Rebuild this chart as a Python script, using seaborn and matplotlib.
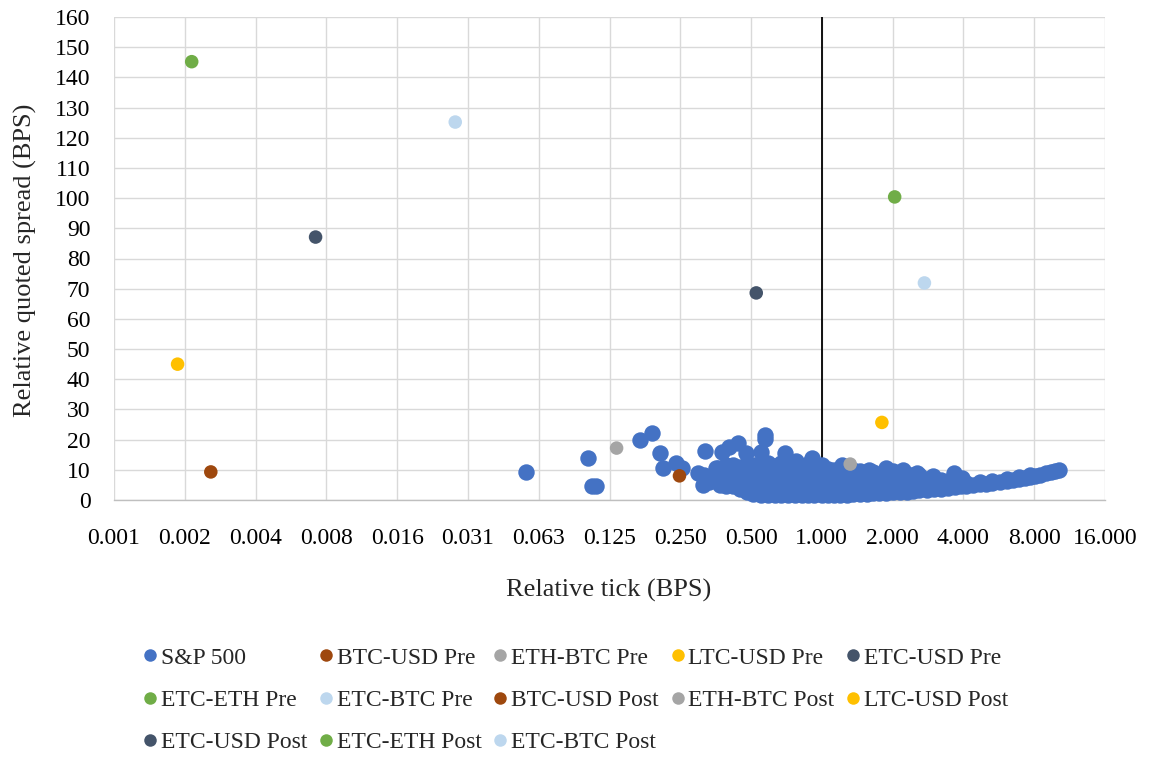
import matplotlib
matplotlib.use("Agg")
import matplotlib.pyplot as plt
from matplotlib.lines import Line2D
from matplotlib.ticker import NullLocator, FixedLocator, FixedFormatter
import pandas as pd
import seaborn as sns

# ---------------- data ----------------
x_ticks = [2.0 ** k for k in range(-10, 5)]
x_tick_labels = ["0.001", "0.002", "0.004", "0.008", "0.016", "0.031", "0.063",
                 "0.125", "0.250", "0.500", "1.000", "2.000", "4.000", "8.000", "16.000"]
y_ticks = list(range(0, 161, 10))

# S&P 500 stocks (relative tick, relative quoted spread)
sp500_tick = [
    0.055, 0.101, 0.105, 0.109, 0.168, 0.189, 0.204, 0.212, 0.240, 0.254,
    0.298, 0.313, 0.319, 0.316, 0.330, 0.360, 0.376, 0.403, 0.442, 0.475,
    0.553, 0.571, 0.571, 0.700, 0.780, 0.907, 1.220, 1.580, 1.870, 2.220,
    2.530, 2.980, 3.660, 3.930, 0.403, 0.417, 0.355, 0.390,
    0.37, 0.37, 0.37,
    0.39, 0.39, 0.39,
    0.42, 0.42, 0.42, 0.42,
    0.45, 0.45, 0.45, 0.45,
    0.48, 0.48, 0.48, 0.48, 0.48,
    0.51, 0.51, 0.51, 0.51, 0.51,
    0.55, 0.55, 0.55, 0.55, 0.55,
    0.59, 0.59, 0.59, 0.59, 0.59, 0.59,
    0.63, 0.63, 0.63, 0.63, 0.63,
    0.67, 0.67, 0.67, 0.67, 0.67, 0.67,
    0.72, 0.72, 0.72, 0.72, 0.72,
    0.77, 0.77, 0.77, 0.77, 0.77, 0.77,
    0.82, 0.82, 0.82, 0.82, 0.82,
    0.87, 0.87, 0.87, 0.87, 0.87, 0.87,
    0.93, 0.93, 0.93, 0.93, 0.93,
    1.00, 1.00, 1.00, 1.00, 1.00, 1.00,
    1.06, 1.06, 1.06, 1.06, 1.06,
    1.13, 1.13, 1.13, 1.13, 1.13,
    1.20, 1.20, 1.20, 1.20, 1.20,
    1.28, 1.28, 1.28, 1.28, 1.28,
    1.36, 1.36, 1.36, 1.36, 1.36,
    1.45, 1.45, 1.45, 1.45, 1.45,
    1.55, 1.55, 1.55, 1.55,
    1.65, 1.65, 1.65, 1.65, 1.65,
    1.75, 1.75, 1.75, 1.75,
    1.87, 1.87, 1.87, 1.87,
    2.00, 2.00, 2.00, 2.00, 2.00,
    2.15, 2.15, 2.15, 2.15,
    2.30, 2.30, 2.30, 2.30,
    2.45, 2.45, 2.45, 2.45,
    2.60, 2.60, 2.60, 2.60,
    2.80, 2.80, 2.80,
    3.00, 3.00, 3.00,
    3.20, 3.20, 3.20,
    3.45, 3.45, 3.45,
    3.70, 3.70, 3.70,
    3.9, 3.9, 4.1, 4.1, 4.4, 4.7, 4.7, 5.0, 5.3, 5.3,
    5.7, 6.1, 6.1, 6.5, 6.9, 6.9, 7.3, 7.7, 7.7, 8.1,
    8.5, 9.0, 9.4, 9.8, 10.2,
]
sp500_spread = [
    9.3, 13.9, 4.6, 4.6, 19.8, 22.1, 15.5, 10.5, 12.4, 10.5,
    8.8, 5.0, 16.2, 8.3, 6.0, 10.5, 15.8, 17.6, 19.0, 15.5,
    15.8, 21.5, 20.2, 15.5, 12.8, 14.0, 11.6, 9.9, 10.6, 9.9,
    9.0, 7.8, 8.8, 7.2, 8.8, 5.5, 10.5, 11.6,
    5.0, 7.5, 10.0,
    4.8, 7.2, 9.6,
    4.6, 7.0, 9.4, 11.6,
    3.6, 6.0, 8.6, 11.0,
    2.6, 5.0, 7.6, 10.0, 12.0,
    2.0, 4.4, 7.0, 9.5, 11.6,
    1.8, 4.2, 6.6, 9.0, 11.4,
    1.6, 4.0, 6.4, 8.8, 11.0, 12.4,
    1.8, 4.2, 6.6, 9.0, 11.4,
    1.6, 3.8, 6.2, 8.6, 11.0, 12.2,
    1.8, 4.0, 6.4, 8.8, 11.2,
    1.6, 3.8, 6.0, 8.4, 10.8, 12.4,
    1.8, 4.0, 6.4, 8.6, 11.0,
    1.6, 3.8, 6.0, 8.2, 10.6, 12.0,
    1.8, 4.0, 6.2, 8.6, 10.8,
    1.7, 3.8, 6.0, 8.2, 10.4, 11.6,
    1.8, 4.0, 6.2, 8.4, 10.2,
    1.7, 3.8, 6.0, 8.2, 10.0,
    1.8, 4.0, 6.2, 8.4, 10.4,
    1.8, 3.8, 6.0, 8.2, 10.0,
    1.9, 4.0, 6.2, 8.4, 9.8,
    2.0, 4.0, 6.0, 8.2, 9.6,
    2.1, 4.2, 6.4, 8.4,
    2.2, 4.2, 6.2, 8.2, 9.4,
    2.2, 4.4, 6.4, 8.4,
    2.4, 4.4, 6.4, 8.6,
    2.5, 4.5, 6.5, 8.5, 9.6,
    2.7, 4.6, 6.6, 8.6,
    2.8, 4.8, 6.8, 8.6,
    3.0, 5.0, 7.0, 8.4,
    3.2, 5.0, 6.8, 8.2,
    3.4, 5.2, 7.0,
    3.6, 5.3, 6.8,
    3.8, 5.4, 6.6,
    4.0, 5.5, 6.4,
    4.2, 5.6, 6.2,
    4.6, 5.6, 4.8, 5.6, 5.0, 5.2, 5.9, 5.4, 5.7, 6.2,
    6.0, 6.4, 6.9, 6.7, 7.0, 7.5, 7.3, 7.7, 8.2, 8.0,
    8.3, 8.8, 9.3, 9.7, 10.1,
]

# Crypto pairs, pre and post tick change
crypto_series = ["BTC-USD Pre", "ETH-BTC Pre", "LTC-USD Pre", "ETC-USD Pre",
                 "ETC-ETH Pre", "ETC-BTC Pre", "BTC-USD Post", "ETH-BTC Post",
                 "LTC-USD Post", "ETC-USD Post", "ETC-ETH Post", "ETC-BTC Post"]
crypto_tick = [0.00252, 0.134, 0.00182, 0.00703, 0.00209, 0.0276,
               0.248, 1.32, 1.80, 0.526, 2.04, 2.73]
crypto_spread = [9.3, 17.2, 45.0, 87.1, 145.2, 125.2,
                 8.0, 11.9, 25.7, 68.6, 100.4, 71.9]
crypto_colors = ["#9E480E", "#A5A5A5", "#FFC000", "#44546A", "#70AD47", "#BDD7EE",
                 "#9E480E", "#A5A5A5", "#FFC000", "#44546A", "#70AD47", "#BDD7EE"]
sp500_color = "#4472C4"

# ---------------- plot ----------------
sns.set_style("white")
plt.rcParams["font.family"] = ["Liberation Serif", "DejaVu Serif"]

fig = plt.figure(figsize=(11.5, 7.58), dpi=100)
ax = fig.add_axes([114 / 1150, 1 - 500 / 758, (1105 - 114) / 1150, (500 - 17) / 758])

sp_df = pd.DataFrame({"tick": sp500_tick, "spread": sp500_spread})
cr_df = pd.DataFrame({"tick": crypto_tick, "spread": crypto_spread, "series": crypto_series})

ax.axvline(1.0, color="black", lw=1.3, zorder=2)

sns.scatterplot(data=sp_df, x="tick", y="spread", color=sp500_color, s=140,
                linewidth=0, ax=ax, zorder=3, clip_on=False, legend=False)
sns.scatterplot(data=cr_df, x="tick", y="spread", hue="series",
                palette=dict(zip(crypto_series, crypto_colors)), s=95,
                linewidth=0, ax=ax, zorder=4, clip_on=False, legend=False)

ax.set_xscale("log", base=2)
ax.set_xlim(x_ticks[0], x_ticks[-1])
ax.xaxis.set_major_locator(FixedLocator(x_ticks))
ax.xaxis.set_major_formatter(FixedFormatter(x_tick_labels))
ax.xaxis.set_minor_locator(NullLocator())
ax.set_ylim(0, 160)
ax.set_yticks(y_ticks)
ax.set_xlabel("")
ax.set_ylabel("")

ax.grid(True, color="#D9D9D9", lw=1.0)
ax.set_axisbelow(True)
for side in ["top", "right", "left"]:
    ax.spines[side].set_visible(False)
ax.spines["bottom"].set_color("#BFBFBF")
ax.spines["bottom"].set_linewidth(1.0)
ax.spines["bottom"].set_zorder(1.5)
ax.tick_params(axis="both", length=0, labelsize=17, colors="black")
ax.tick_params(axis="x", pad=20.5)
ax.tick_params(axis="y", pad=17)

fig.text(609 / 1150, 1 - 590 / 758, "Relative tick (BPS)", ha="center", va="center", fontsize=19)
fig.text(25 / 1150, 1 - 260 / 758, "Relative quoted spread (BPS)", ha="center", va="center",
         rotation=90, fontsize=19)

# legend (row-major like the original)
labels = ["S&P 500"] + crypto_series
colors = [sp500_color] + crypto_colors
handles = [Line2D([], [], marker="o", linestyle="", markersize=9, markeredgewidth=0,
                  color=c) for c in colors]
order = [0, 5, 10, 1, 6, 11, 2, 7, 12, 3, 8, 4, 9]
fig.legend([handles[i] for i in order], [labels[i] for i in order],
           loc="upper left", bbox_to_anchor=(143 / 1150, 1 - 647 / 758), ncol=5,
           frameon=False, fontsize=17, handlelength=0.6, handletextpad=0.15,
           columnspacing=0.5, labelspacing=0.88, borderpad=0, borderaxespad=0)

fig.savefig("out.png", dpi=100)
